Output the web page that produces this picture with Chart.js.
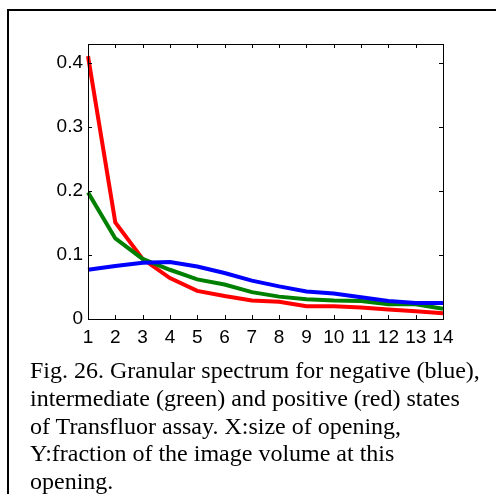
<!DOCTYPE html>
<html>
<head>
<meta charset="utf-8">
<script src="https://cdn.jsdelivr.net/npm/chart.js@4"></script>
<style>
  body { margin: 0; background: #fff; }
  #frame { position: absolute; left: 7px; top: 9px; width: 489px; height: 485px;
           border-left: 2px solid #000; border-top: 2px solid #000; }
  #chartBox { position: absolute; left: 0; top: 0; }
  #caption { position: absolute; left: 30px; top: 357px; width: 452px;
             font-family: "Liberation Serif", "Times New Roman", serif;
             font-size: 24px; line-height: 27.8px; color: #000; }
</style>
</head>
<body>
<div id="frame"></div>
<canvas id="chartBox" width="496" height="360"></canvas>
<div id="caption">Fig. 26. Granular spectrum for negative (blue), intermediate (green) and positive (red) states of Transfluor assay. X:size of opening, Y:fraction of the image volume at this opening.</div>
<script>
// opening sizes
const openings = ["1", "2", "3", "4", "5", "6", "7", "8", "9", "10", "11", "12", "13", "14"];
const yTicks = [0, 0.1, 0.2, 0.3, 0.4];

// fraction of image volume
const negative = [0.077, 0.083, 0.088, 0.089, 0.082, 0.072, 0.060, 0.051, 0.043, 0.040, 0.034, 0.028, 0.025, 0.025];
const intermediate = [0.198, 0.126, 0.094, 0.077, 0.062, 0.054, 0.042, 0.035, 0.031, 0.029, 0.028, 0.023, 0.023, 0.016];
const positive = [0.411, 0.151, 0.094, 0.064, 0.044, 0.036, 0.029, 0.027, 0.020, 0.020, 0.018, 0.015, 0.012, 0.009];

// box around the axes with inward ticks on every side, like matlab
const boxTicks = {
    id: "boxTicks",
    afterDatasetsDraw(chart) {
        const ctx = chart.ctx;
        const a = chart.chartArea;
        const xs = chart.scales.x, ys = chart.scales.y;
        const len = 4;
        ctx.save();
        ctx.strokeStyle = "#000";
        ctx.lineWidth = 1;
        ctx.beginPath();
        for (let i = 1; i < openings.length - 1; i++) {
            let px = Math.round(xs.getPixelForValue(i)) + 0.5;
            ctx.moveTo(px, a.bottom); ctx.lineTo(px, a.bottom - len);
            ctx.moveTo(px, a.top); ctx.lineTo(px, a.top + len);
        }
        for (let i = 1; i < yTicks.length; i++) {
            let py = Math.round(ys.getPixelForValue(yTicks[i])) + 0.5;
            ctx.moveTo(a.left, py); ctx.lineTo(a.left + len, py);
            ctx.moveTo(a.right, py); ctx.lineTo(a.right - len, py);
        }
        ctx.stroke();
        ctx.strokeRect(Math.round(a.left) + 0.5, Math.round(a.top) + 0.5,
                       Math.round(a.right - a.left), Math.round(a.bottom - a.top));
        ctx.restore();
    }
};

const tickFont = { family: "'Liberation Sans', Arial, sans-serif", size: 19 };

new Chart(document.getElementById("chartBox"), {
    type: "line",
    data: {
        labels: openings,
        datasets: [
            { label: "negative", data: negative, borderColor: "#0000ff" },
            { label: "intermediate", data: intermediate, borderColor: "#008000" },
            { label: "positive", data: positive, borderColor: "#ff0000" }
        ]
    },
    options: {
        responsive: false,
        animation: false,
        layout: { padding: { left: 0, right: 53, top: 44, bottom: 0 } },
        elements: {
            line: { borderWidth: 4, tension: 0, borderCapStyle: "butt", borderJoinStyle: "miter" },
            point: { radius: 0 }
        },
        plugins: { legend: { display: false }, tooltip: { enabled: false } },
        scales: {
            x: {
                offset: false,
                grid: { display: false, drawTicks: false },
                border: { display: false },
                ticks: { color: "#000", font: tickFont, padding: 7, maxRotation: 0, autoSkip: false },
                afterFit: s => { s.height = 41; }
            },
            y: {
                min: 0,
                max: 0.43,
                grid: { display: false, drawTicks: false },
                border: { display: false },
                ticks: { color: "#000", font: tickFont, padding: 5 },
                afterBuildTicks: s => { s.ticks = yTicks.map(v => ({ value: v })); },
                afterFit: s => { s.width = 88; }
            }
        }
    },
    plugins: [boxTicks]
});
</script>
</body>
</html>
